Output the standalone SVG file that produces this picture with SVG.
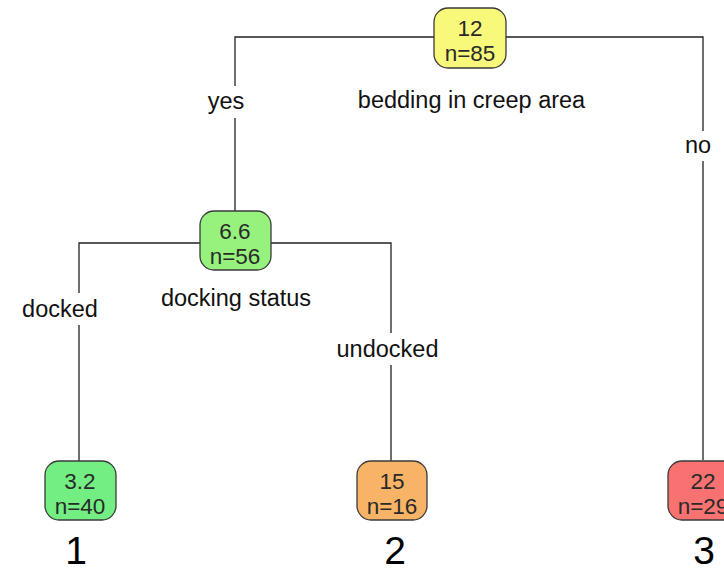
<svg xmlns="http://www.w3.org/2000/svg" width="724" height="568" viewBox="0 0 724 568">
<style>
.edge{fill:none;stroke:#222;stroke-width:1.3}
.box{stroke:#3a3a3a;stroke-width:1.3}
.t{font-family:"Liberation Sans",Arial,sans-serif;font-size:22.5px;fill:#2a2a2a;text-anchor:middle}
.lbl{font-family:"Liberation Sans",Arial,sans-serif;font-size:23.5px;fill:#111;text-anchor:middle}
.bg{fill:#fff}
.num{font-family:"Liberation Sans",Arial,sans-serif;font-size:39px;fill:#000;text-anchor:middle}
</style>
<rect width="724" height="568" fill="#fff"/>
<g id="connectors">
<path class="edge" d="M434,37 H235 V211"/>
<path class="edge" d="M506,37 H703 V460"/>
<path class="edge" d="M200,243 H79 V461"/>
<path class="edge" d="M271,243 H391 V461"/>
<rect class="bg" x="202" y="86" width="50" height="32"/>
<text class="lbl" x="226" y="109">yes</text>
<rect class="bg" x="680" y="131" width="38" height="30"/>
<text class="lbl" x="698" y="153">no</text>
<rect class="bg" x="18" y="293" width="84" height="32"/>
<text class="lbl" x="60" y="317">docked</text>
<rect class="bg" x="332" y="333" width="112" height="32"/>
<text class="lbl" x="387.5" y="357">undocked</text>
<text class="lbl" x="471.5" y="108">bedding in creep area</text>
<text class="lbl" x="236" y="306">docking status</text>
</g>
<g id="n12">
<rect class="box" x="434" y="8" width="72" height="60" rx="14" fill="#F8F87A"/>
<text class="t" x="470" y="36">12</text>
<text class="t" x="470" y="61">n=85</text>
</g>
<g id="n66">
<rect class="box" x="200" y="211" width="71" height="59" rx="14" fill="#96F27C"/>
<text class="t" x="235" y="239">6.6</text>
<text class="t" x="235" y="264">n=56</text>
</g>
<g id="n32">
<rect class="box" x="45" y="461" width="71" height="59" rx="14" fill="#72EE82"/>
<text class="t" x="80" y="489">3.2</text>
<text class="t" x="80" y="514">n=40</text>
<text class="num" x="76" y="564">1</text>
</g>
<g id="n15">
<rect class="box" x="357" y="461" width="70" height="59" rx="14" fill="#F8B466"/>
<text class="t" x="392" y="489">15</text>
<text class="t" x="392" y="514">n=16</text>
<text class="num" x="395" y="564">2</text>
</g>
<g id="n22">
<rect class="box" x="668" y="461" width="72" height="59" rx="14" fill="#F87272"/>
<text class="t" x="703" y="489">22</text>
<text class="t" x="703" y="514">n=29</text>
<text class="num" x="704" y="564">3</text>
</g>
</svg>
